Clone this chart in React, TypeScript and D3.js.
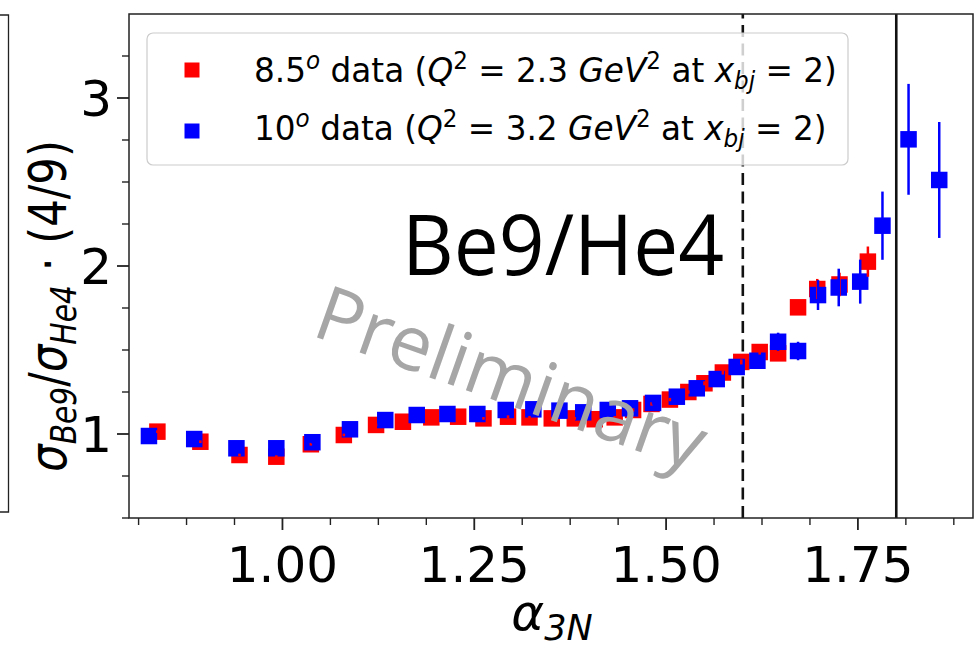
import React from 'react';
import * as d3 from 'd3';

const W = 974;
const H = 648;

// 8.5 degree data (red)
const alphaRed = [0.837, 0.893, 0.944, 0.992, 1.037, 1.080, 1.122, 1.157, 1.194, 1.229, 1.262, 1.294, 1.322, 1.351, 1.381, 1.407, 1.433, 1.457, 1.481, 1.505, 1.529, 1.550, 1.574, 1.598, 1.622, 1.646, 1.672, 1.697, 1.726, 1.763];
const ratioRed = [1.014, 0.954, 0.875, 0.865, 0.939, 0.994, 1.054, 1.073, 1.099, 1.103, 1.093, 1.103, 1.099, 1.093, 1.093, 1.088, 1.099, 1.143, 1.179, 1.205, 1.250, 1.302, 1.366, 1.429, 1.488, 1.480, 1.754, 1.863, 1.890, 2.026];
const errRed = [0.008, 0.008, 0.008, 0.008, 0.008, 0.008, 0.008, 0.008, 0.008, 0.008, 0.008, 0.008, 0.008, 0.008, 0.008, 0.008, 0.008, 0.01, 0.01, 0.01, 0.01, 0.012, 0.012, 0.015, 0.015, 0.02, 0.03, 0.06, 0.07, 0.09];

// 10 degree data (blue)
const alphaBlue = [0.826, 0.885, 0.940, 0.992, 1.039, 1.088, 1.134, 1.175, 1.215, 1.254, 1.291, 1.327, 1.361, 1.392, 1.424, 1.453, 1.483, 1.514, 1.540, 1.566, 1.592, 1.619, 1.646, 1.672, 1.698, 1.725, 1.753, 1.782, 1.816, 1.856];
const ratioBlue = [0.988, 0.970, 0.915, 0.915, 0.951, 1.028, 1.083, 1.113, 1.119, 1.119, 1.143, 1.147, 1.139, 1.129, 1.143, 1.153, 1.185, 1.222, 1.272, 1.327, 1.399, 1.436, 1.549, 1.494, 1.827, 1.872, 1.907, 2.240, 2.754, 2.512];
const errBlue = [0.008, 0.008, 0.008, 0.008, 0.008, 0.008, 0.008, 0.008, 0.008, 0.008, 0.008, 0.008, 0.008, 0.008, 0.008, 0.01, 0.01, 0.01, 0.012, 0.015, 0.02, 0.03, 0.054, 0.055, 0.089, 0.112, 0.131, 0.203, 0.33, 0.345];

const xMajorTicks = [1.0, 1.25, 1.5, 1.75];
const xTickLabels = ['1.00', '1.25', '1.50', '1.75'];
const yMajorTicks = [1, 2, 3];
const yTickLabels = ['1', '2', '3'];
const dashedLineAt = 1.6;
const solidLineAt = 1.8;

const FONT = 'DejaVu Sans';

export default function App() {
  const x = d3.scaleLinear().domain([0.8, 1.9]).range([129, 973]);
  const y = d3.scaleLinear().domain([0.5, 3.5]).range([518, 14]);
  const [x0, x1] = x.range();
  const [yb, yt] = y.range();

  const xMinor = d3.range(13, 31).map((i) => i * 0.0625).filter((v) => !xMajorTicks.some((m) => Math.abs(m - v) < 1e-6));
  const yMinor = d3.range(2, 14).map((i) => i * 0.25).filter((v) => !yMajorTicks.some((m) => Math.abs(m - v) < 1e-6));

  const ms = 16.5;
  const red = '#ff0000';
  const blue = '#0000ff';

  const markers = (xs: number[], ys: number[], color: string) =>
    xs.map((a, i) => (
      <rect key={i} x={x(a) - ms / 2} y={y(ys[i]) - ms / 2} width={ms} height={ms} fill={color} />
    ));
  const bars = (xs: number[], ys: number[], es: number[], color: string) =>
    xs.map((a, i) => (
      <line key={i} x1={x(a)} x2={x(a)} y1={y(ys[i] - es[i])} y2={y(ys[i] + es[i])} stroke={color} strokeWidth={2.5} />
    ));

  const axisColor = '#222';
  const supShift = 13;

  const legendRow = (lead: string, q: string, yy: number) => (
    <text transform={`translate(254,${yy}) scale(0.962,1)`} fontSize={34} fill="#000">
      <tspan>{lead}</tspan>
      <tspan fontStyle="italic" fontSize={24} dy={-supShift}>o</tspan>
      <tspan dy={supShift}> data (</tspan>
      <tspan fontStyle="italic">Q</tspan>
      <tspan fontSize={24} dy={-supShift}>2</tspan>
      <tspan dy={supShift}>{' = ' + q + ' '}</tspan>
      <tspan fontStyle="italic">GeV</tspan>
      <tspan fontSize={24} dy={-supShift}>2</tspan>
      <tspan dy={supShift}> at </tspan>
      <tspan fontStyle="italic">x</tspan>
      <tspan fontStyle="italic" fontSize={24} dy={7}>bj</tspan>
      <tspan dy={-7}> = 2)</tspan>
    </text>
  );

  return (
    <svg width={W} height={H} style={{ position: 'absolute', left: 0, top: 0, background: '#fff' }} fontFamily={FONT}>
      <rect x={0} y={0} width={W} height={H} fill="#fff" />
      {/* left neighbour frame edge */}
      <path d="M0,15 H8.5 V512 H0" fill="none" stroke="#222" strokeWidth={1.3} />

      {/* vertical reference lines */}
      <line x1={x(dashedLineAt)} x2={x(dashedLineAt)} y1={yb} y2={yt} stroke="#111" strokeWidth={2.6} strokeDasharray="12,6.5" />
      <line x1={x(solidLineAt)} x2={x(solidLineAt)} y1={yb} y2={yt} stroke="#111" strokeWidth={2.6} />

      {/* data */}
      <g>{markers(alphaRed, ratioRed, red)}</g>
      <g>{markers(alphaBlue, ratioBlue, blue)}</g>
      <g>{bars(alphaRed, ratioRed, errRed, red)}</g>
      <g>{bars(alphaBlue, ratioBlue, errBlue, blue)}</g>

      {/* frame */}
      <rect x={x0} y={yt} width={x1 - x0} height={yb - yt} fill="none" stroke={axisColor} strokeWidth={1.5} />

      {/* x ticks */}
      {xMajorTicks.map((v) => (
        <line key={'xm' + v} x1={x(v)} x2={x(v)} y1={yb} y2={yb + 12} stroke={axisColor} strokeWidth={1.8} />
      ))}
      {xMinor.map((v) => (
        <line key={'xn' + v} x1={x(v)} x2={x(v)} y1={yb} y2={yb + 7} stroke={axisColor} strokeWidth={1.4} />
      ))}
      {xMajorTicks.map((v, i) => (
        <text key={'xl' + v} x={x(v)} y={582} fontSize={50} textAnchor="middle" fill="#000">
          {xTickLabels[i]}
        </text>
      ))}

      {/* y ticks */}
      {yMajorTicks.map((v) => (
        <line key={'ym' + v} x1={x0 - 12} x2={x0} y1={y(v)} y2={y(v)} stroke={axisColor} strokeWidth={1.8} />
      ))}
      {yMinor.map((v) => (
        <line key={'yn' + v} x1={x0 - 7} x2={x0} y1={y(v)} y2={y(v)} stroke={axisColor} strokeWidth={1.4} />
      ))}
      {yMajorTicks.map((v, i) => (
        <text key={'yl' + v} x={112} y={y(v) + 18} fontSize={50} textAnchor="end" fill="#000">
          {yTickLabels[i]}
        </text>
      ))}

      {/* x label */}
      <text x={552} y={630} fontSize={50} textAnchor="middle" fill="#000">
        <tspan fontStyle="italic">α</tspan>
        <tspan fontStyle="italic" fontSize={35} dy={10}>3N</tspan>
      </text>

      {/* y label */}
      <text transform="translate(66,306) rotate(-90) scale(0.85,1)" fontSize={51} textAnchor="middle" fill="#000">
        <tspan fontStyle="italic">σ</tspan>
        <tspan fontStyle="italic" fontSize={35} dy={10}>Be9</tspan>
        <tspan dy={-10}>/</tspan>
        <tspan fontStyle="italic">σ</tspan>
        <tspan fontStyle="italic" fontSize={35} dy={10}>He4</tspan>
        <tspan dy={-10}> · (4/9)</tspan>
      </text>

      {/* legend */}
      <rect x={147} y={33} width={701} height={132} rx={6} fill="#fff" fillOpacity={0.8} stroke="#cccccc" strokeWidth={1.2} />
      <rect x={192 - 7.5} y={70 - 7.5} width={15} height={15} fill={red} />
      <rect x={192 - 7.5} y={131 - 7.5} width={15} height={15} fill={blue} />
      {legendRow('8.5', '2.3', 82)}
      {legendRow('10', '3.2', 140)}

      {/* annotations */}
      <text x={402} y={275} fontSize={84} fontFamily="Open Sans" fontWeight={400} fill="#000" textLength={322} lengthAdjust="spacingAndGlyphs">
        Be9/He4
      </text>
      <text transform="translate(310,335) rotate(19.5)" fontSize={76} fontFamily="Open Sans" fontWeight={400} fill="#a6a6a6" textLength={408} lengthAdjust="spacingAndGlyphs">
        Preliminary
      </text>
    </svg>
  );
}
